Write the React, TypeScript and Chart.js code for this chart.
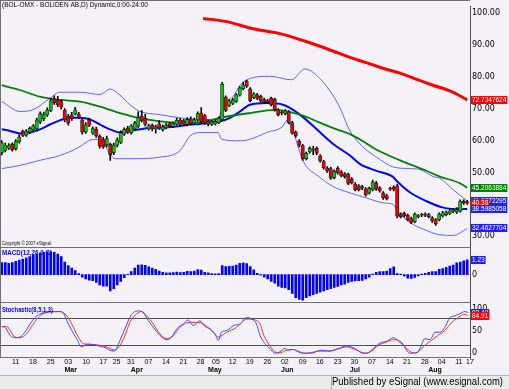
import React, { useEffect, useRef } from 'react';
import { Chart, registerables } from 'chart.js';
Chart.register(...registerables);

// ---------- DATA ----------
const opens = [56.2,56.9,57.6,58.8,57.4,59.6,62.9,61.7,62.6,63.4,63.6,65.8,66.8,68.0,69.4,73.0,72.6,72.2,69.5,67.6,68.0,68.4,68.2,66.5,62.6,66.4,62.3,63.5,61.3,60.3,58.6,58.8,56.2,58.5,59.4,62.0,63.9,62.4,63.6,64.5,67.6,66.9,63.6,64.8,63.6,65.2,63.4,64.0,65.3,64.4,65.0,66.4,66.2,65.0,66.8,65.4,66.4,68.6,67.8,66.1,65.0,65.2,65.6,66.6,73.6,71.0,71.6,72.2,74.2,76.2,78.5,76.2,73.5,74.3,73.8,72.8,72.5,73.2,72.9,69.6,68.9,68.4,69.0,65.6,62.6,59.8,58.4,54.3,56.4,57.4,57.6,55.2,53.4,51.4,51.2,48.4,51.3,50.2,49.6,49.4,48.0,46.4,45.8,45.6,44.9,43.6,44.6,46.6,45.2,43.6,42.8,45.0,45.4,45.8,37.0,37.2,36.6,35.6,34.6,36.2,36.6,37.0,36.8,35.8,35.2,35.2,36.4,36.8,37.2,37.8,37.6,37.9,41.0,40.9];
const highs = [60.0,59.2,59.0,59.3,60.3,61.8,63.3,63.4,64.2,65.0,67.0,69.0,68.9,70.2,73.2,74.0,73.8,72.8,70.0,68.2,68.8,70.4,68.8,67.0,65.6,67.0,64.3,64.2,61.8,61.0,61.4,59.2,59.2,60.8,63.0,64.0,64.4,65.0,66.0,69.0,69.4,68.2,65.1,65.2,64.8,66.2,64.9,65.4,65.6,65.8,67.0,66.9,66.6,67.2,67.4,67.0,69.0,70.3,68.2,66.5,66.3,66.4,67.4,78.2,74.0,72.8,73.2,74.7,76.9,78.2,78.9,76.6,75.0,74.8,74.2,73.3,72.9,73.6,73.3,70.0,69.2,69.7,69.4,66.0,63.0,60.3,58.8,56.4,58.0,58.2,58.0,55.6,53.8,51.8,51.6,50.8,51.8,50.6,50.0,49.8,48.4,46.8,46.2,46.0,45.3,45.4,47.6,47.2,45.6,44.0,43.2,45.4,45.8,46.4,37.4,37.6,37.0,36.0,37.4,36.8,37.2,37.4,37.2,36.2,35.6,37.4,37.8,38.0,38.6,38.8,39.0,41.4,41.4,41.3];
const lows = [55.5,56.4,57.2,56.7,57.0,59.2,61.2,61.3,62.2,63.0,63.0,65.3,66.2,67.5,69.0,71.3,70.6,69.8,65.8,64.8,66.3,68.0,66.8,62.0,62.2,64.3,61.9,61.0,57.6,57.5,58.0,53.8,55.6,58.0,59.0,61.6,62.2,62.0,63.3,64.0,65.8,64.6,63.2,63.0,62.3,63.5,62.9,63.6,64.2,64.0,64.7,64.6,64.6,64.6,64.9,65.0,66.0,65.6,65.0,64.6,64.7,64.9,65.3,66.3,69.0,70.6,71.2,71.9,73.9,75.8,76.6,72.1,73.1,72.8,72.0,71.6,71.6,70.8,69.2,67.7,68.0,68.0,65.2,62.0,61.0,58.0,53.8,53.9,56.0,55.6,55.6,53.2,51.0,50.0,47.8,48.0,49.5,48.6,48.2,46.2,46.4,44.2,44.2,44.6,42.6,43.2,44.2,44.4,43.8,41.6,41.4,44.4,44.2,35.8,35.8,36.0,34.8,34.0,34.2,35.8,36.2,36.2,35.8,34.4,33.4,34.8,36.0,36.4,36.8,37.4,37.2,37.6,40.0,40.0];
const closes = [59.3,58.6,58.4,57.1,59.8,61.0,61.6,62.9,63.8,64.6,66.5,68.4,68.1,69.5,72.4,71.8,71.2,70.4,66.4,65.4,66.9,69.6,67.2,62.6,64.9,64.8,63.7,61.5,58.2,58.0,60.6,55.6,58.6,60.2,62.4,63.5,62.6,64.6,65.5,67.3,66.2,65.0,64.6,63.6,64.3,63.9,64.3,64.8,64.6,65.3,66.3,65.0,65.0,66.6,65.3,66.5,68.4,65.9,65.4,65.0,65.8,65.9,67.0,77.6,69.4,72.4,72.7,74.3,76.5,77.4,77.0,72.5,74.6,73.2,72.3,72.0,72.0,71.2,69.6,68.1,68.6,69.3,65.6,62.3,61.5,58.5,54.2,56.0,57.6,57.0,56.0,53.6,51.5,50.4,48.2,50.4,49.9,49.0,48.7,46.6,46.8,44.6,44.6,45.2,43.0,45.0,47.0,44.8,44.2,42.0,41.8,44.8,44.7,36.3,36.2,36.4,35.2,34.4,37.0,36.4,36.8,36.6,36.2,34.8,33.9,37.0,37.4,37.6,38.0,38.3,38.4,40.9,40.4,40.38];

const macdHist = [1.0,1.0,0.95,1.0,1.1,1.2,1.3,1.4,1.5,1.6,1.7,1.8,1.85,1.9,1.9,1.85,1.7,1.5,1.05,0.75,0.55,0.35,0.1,-0.2,-0.35,-0.45,-0.5,-0.65,-0.85,-0.95,-0.95,-1.35,-1.15,-0.85,-0.55,-0.25,0.02,0.25,0.55,0.8,0.82,0.78,0.65,0.55,0.45,0.3,0.2,0.15,0.15,0.18,0.22,0.18,0.2,0.28,0.25,0.3,0.42,0.38,0.2,0.15,0.1,0.08,0.1,0.75,0.68,0.7,0.72,0.8,0.95,0.98,0.92,0.67,0.4,0.12,-0.05,-0.2,-0.35,-0.55,-0.7,-0.95,-1.05,-1.1,-1.25,-1.55,-1.9,-2.05,-2.12,-1.9,-1.75,-1.65,-1.55,-1.45,-1.35,-1.25,-1.15,-1.05,-0.98,-0.85,-0.78,-0.65,-0.55,-0.52,-0.5,-0.48,-0.35,-0.2,0.05,0.2,0.25,0.25,0.3,0.5,0.65,0.1,0.05,-0.1,-0.28,-0.3,-0.22,-0.1,0.05,0.12,0.2,0.25,0.25,0.45,0.5,0.6,0.72,0.8,0.98,1.05,1.15,1.23];

// indicator lines: [bar index, value]
const ma200 = [[57.5,98.2],[64.3,97.2],[70.9,95.2],[80.4,93.2],[85.2,91.6],[90.1,89.8],[94.6,88.0],[99.5,86.0],[104.4,84.3],[108.9,82.6],[113.8,81.1],[118.6,79.1],[123.2,77.3],[128.1,75.5],[133,72.7347624]];
const ma50 = [[0,77.3],[5.2,75.8],[10.9,73.7],[16.6,72.7],[22.4,72.2],[28.1,70.6],[33.8,68.6],[39.5,67.0],[45.2,66.0],[50.9,65.6],[56.6,65.6],[62.4,67.1],[70.9,68.6],[78.1,69.6],[85.2,68.1],[90.9,65.6],[95.7,63.5],[99.5,62.0],[103.8,59.4],[106.6,57.4],[113.8,53.8],[121,50.7],[125.2,48.7],[131,46.6],[133,45.2063884]];
const bbUpper = [[0,72.2],[5.2,69.1],[8.9,69.6],[13.8,73.2],[16.6,75.1],[22.4,75.1],[28.1,74.4],[30.9,76.1],[33.8,74.2],[36.6,71.2],[39.5,69.1],[45.2,68.1],[50.9,67.1],[56.6,66.6],[61.8,66.6],[63.2,71.2],[66.1,73.7],[68.1,77.3],[70.9,79.4],[76.6,80.1],[82.8,79.0],[86.6,82.4],[91.4,78.8],[96.2,71.2],[99.5,63.0],[103.3,57.9],[107.1,54.8],[111.9,51.7],[116.6,51.2],[119.5,50.9],[123.3,48.7],[125.2,48.2],[129,44.6],[133,41.0372295]];
const bbMid = [[0,63.5],[2.4,63.0],[5.2,62.2],[8.1,62.5],[10.9,63.5],[13.8,65.0],[16.6,66.3],[19.5,67.1],[22.4,67.1],[25.2,66.6],[28.1,65.0],[30.9,63.5],[33.8,62.5],[36.6,63.0],[39.5,63.5],[42.4,64.0],[45.2,64.0],[48.1,64.2],[50.9,64.5],[53.8,65.0],[56.6,65.2],[59.5,65.6],[62.4,66.0],[65.2,67.1],[68.1,69.1],[70.9,71.2],[75.7,71.7],[80.4,71.2],[85.2,68.1],[90,63.5],[94.7,58.9],[99.5,55.3],[102.4,52.6],[107.1,50.5],[111.8,48.6],[112.8,47.4],[116.6,43.8],[121.4,41.0],[126.2,39.0],[131,38.5],[133,38.5985058]];
const bbLower = [[0,51.2],[5.2,52.2],[10.9,53.8],[16.6,55.3],[22.4,58.1],[25.2,60.1],[28.1,60.4],[30.9,55.8],[32.4,54.3],[37.5,54.3],[45.2,54.8],[50.9,56.8],[53.8,61.4],[56.6,62.5],[61.8,62.5],[62.8,60.4],[68.1,59.9],[70.9,60.4],[75.7,62.5],[80.4,64.5],[81.5,66.3],[83.2,63.0],[86.2,53.4],[90.4,48.9],[94.7,45.6],[99.5,43.6],[104.3,42.0],[109,40.5],[111.9,40.0],[112.8,38.4],[116.6,34.4],[120.4,32.3],[125.2,30.5],[129,30.3],[133,32.4627704]];

const stochK = [[0,60.7],[0.9,59.1],[2.4,40.7],[3.8,35.6],[5.2,36.9],[6.6,48],[8.1,66.7],[9.5,81.3],[10.9,88.9],[12.4,92.4],[13.8,94.7],[16.6,94.7],[17.5,92.4],[18.6,74],[20,51.8],[21.4,33.3],[22.8,14.7],[24.3,20.7],[26.2,20],[28.1,16.2],[29.5,13.3],[30.9,7.3],[31.9,5.1],[32.8,11.1],[33.8,29.6],[35.2,55.6],[36.6,81.3],[37.6,92.4],[39,96.2],[40.4,92.4],[41.9,74],[43.3,59.1],[45.2,40.7],[47.1,31.1],[48.6,36.9],[50,55.6],[51.9,66.7],[53.3,75.6],[54.7,62.9],[56.6,74],[58.1,60.7],[59.5,55.6],[60.9,44.4],[61.9,29.6],[62.8,48],[64.3,51.8],[66.2,62.9],[68.1,66.7],[70,81.3],[71.4,77.8],[72.8,66.7],[73.8,40.7],[75.2,22.2],[76.6,11.1],[78.1,0.5],[79.5,3.6],[80.9,11.1],[81.9,7.3],[83.3,8.9],[84.7,3.6],[86.2,0],[87.6,0.8],[89.5,3.6],[91.4,7.3],[93.8,5.1],[96.2,11.1],[98.6,16.9],[100.9,11.1],[103.3,0.5],[104.3,0.5],[106.2,11.1],[108.1,23.6],[110,27.3],[111.9,35.6],[113.3,28],[114.7,18.4],[116.6,0.5],[118.6,1.3],[119.5,11.1],[120.9,33.3],[122.4,31.1],[123.8,48],[125.2,48],[126.6,59.1],[128.1,81.3],[129.5,85.1],[130.9,90.2],[132.4,94.7],[133.3,92.4]];
const stochD = [[0,60.7],[1.4,60.7],[3.8,36.9],[5.2,35.6],[7.1,44.4],[9,66.7],[10.9,85.1],[12.8,92.4],[16.6,94.7],[18.6,85.1],[20,66.7],[21.9,36.9],[23.3,22.2],[25.2,20.7],[28.1,18.4],[30,14.7],[32.4,7.3],[33.8,18.4],[35.2,40.7],[36.6,70.2],[38.6,90.2],[40,94.7],[41.4,85.1],[43.3,66.7],[45.2,44.4],[47.1,33.3],[49,40.7],[51.4,62.9],[53.8,70.2],[55.7,70.2],[57.6,66.7],[60.4,48],[61.9,36.9],[64.3,48],[67.1,59.1],[70,77.8],[72.4,75.6],[73.8,66.7],[74.7,44.4],[76.2,22.2],[78.1,3.6],[79.5,1.3],[81.4,7.3],[83.3,8.9],[85.2,3.6],[86.6,0.5],[88.6,0.5],[90.4,5.1],[92.8,5.1],[95.7,8.9],[98.6,14.7],[101.4,7.3],[103.8,0.5],[105.7,5.1],[107.6,18.4],[110,25.8],[111.9,31.1],[113.8,28],[115.7,11.1],[117.6,1.3],[119,3.6],[120.9,18.4],[122.8,29.6],[124.7,40.7],[126.6,51.8],[128.6,70.2],[130.4,81.3],[132.4,88.9],[133.3,84.91]];

// axes
const dayTickPos = [4,8.9,14,19,24.1,29,32.8,36.9,41.9,46.9,51.9,56.8,61.2,66,70.9,75.9,80.9,86,90.9,96,100.8,105.8,110.9,115.8,120.9,125.7,130.6,133.8];
const dayTickLabels = ['11','18','25','03','10','17','25','31','07','14','21','28','05','12','19','26','02','09','16','23','30','07','14','21','28','04','11','17'];
const monthPos = [19.7,38.6,60.9,81.6,100.9,123.8];
const monthLabels = ['Mar','Apr','May','Jun','Jul','Aug'];
const priceTicks = [30,40,50,60,70,80,90,100];
const macdTicks = [0];
const stochTicks = [0,50,100];
const stochLevels = [20,80];

const TITLE = '(BOL-OMX - BOLIDEN AB,D) Dynamic,0:00-24:00';
const COPYRIGHT = 'Copyright \u00a9 2007 eSignal.';
const MACD_LABEL = 'MACD(12,26,0,C)';
const STOCH_LABEL = 'Stochastic(8,5,1,3)';
const FOOTER = 'Published by eSignal (www.esignal.com)';

// ---------- STYLE ----------
const FONT = "'Liberation Sans', Arial, sans-serif";
const BG = '#F4F2F8';
const FOOTER_BG = '#EBEBEB';
const UP = '#00C800';
const DOWN = '#E80000';
const last = (a: number[][]) => a[a.length - 1][1];

function drawFlag(ctx: CanvasRenderingContext2D, x: number, y: number, text: string, bg: string) {
  ctx.font = `6.5px ${FONT}`;
  const w = ctx.measureText(text).width + 2;
  const h = 8;
  ctx.fillStyle = bg;
  ctx.fillRect(x, Math.round(y - h / 2), w, h);
  ctx.fillStyle = '#FFFFFF';
  ctx.textAlign = 'left';
  ctx.textBaseline = 'middle';
  ctx.fillText(text, x + 1, Math.round(y - h / 2) + h / 2 + 0.5);
}

const decor = {
  id: 'decor',
  beforeDraw(chart: any) {
    const { ctx, width, height } = chart;
    const xs = chart.scales.x;
    ctx.save();
    ctx.fillStyle = BG;
    ctx.fillRect(0, 0, width, height);
    const ft = Math.round(xs.bottom);
    ctx.fillStyle = FOOTER_BG;
    ctx.fillRect(0, ft, width, height - ft);
    ctx.fillStyle = '#B4B4B4';
    ctx.fillRect(0, ft, width, 1);
    ctx.fillRect(331, ft, 1, height - ft);
    ctx.restore();
  },
  beforeDatasetsDraw(chart: any) {
    const { ctx, chartArea } = chart;
    const s = chart.scales.stoch;
    ctx.save();
    ctx.strokeStyle = '#505050';
    ctx.lineWidth = 1;
    stochLevels.forEach((v) => {
      const y = Math.round(s.getPixelForValue(v)) + 0.5;
      ctx.beginPath();
      ctx.moveTo(chartArea.left, y);
      ctx.lineTo(chartArea.right, y);
      ctx.stroke();
    });
    ctx.restore();
  },
  afterDraw(chart: any) {
    const { ctx, chartArea } = chart;
    const { y, macd, stoch, x } = chart.scales;
    ctx.save();
    // panel frame
    ctx.strokeStyle = '#707070';
    ctx.lineWidth = 1;
    ctx.beginPath();
    [y.bottom, macd.bottom, stoch.bottom].forEach((b: number) => {
      const yy = Math.round(b) - 0.5;
      ctx.moveTo(chartArea.left, yy);
      ctx.lineTo(chartArea.right, yy);
    });
    ctx.moveTo(chartArea.left, 0.5);
    ctx.lineTo(chartArea.right, 0.5);
    ctx.moveTo(0.5, 0);
    ctx.lineTo(0.5, chartArea.bottom);
    ctx.stroke();

    // month labels
    ctx.fillStyle = '#000';
    ctx.font = `bold 7px ${FONT}`;
    ctx.textAlign = 'center';
    ctx.textBaseline = 'middle';
    monthPos.forEach((p, k) => ctx.fillText(monthLabels[k], x.getPixelForValue(p), 370.5));

    // texts
    ctx.textAlign = 'left';
    ctx.font = `7px ${FONT}`;
    ctx.fillStyle = '#000';
    ctx.fillText(TITLE, 2, 5.5, 146);
    ctx.font = `5px ${FONT}`;
    ctx.fillText(COPYRIGHT, 2, y.bottom - 4.5, 50);
    ctx.font = `bold 7px ${FONT}`;
    ctx.fillStyle = '#0000FF';
    ctx.fillText(MACD_LABEL, 2, y.bottom + 4.5, 50);
    ctx.fillText(STOCH_LABEL, 2, macd.bottom + 6.5, 51);

    // footer
    ctx.fillStyle = '#000';
    ctx.font = `10px ${FONT}`;
    ctx.textAlign = 'right';
    ctx.fillText(FOOTER, 503, x.bottom + 7, 171);

    // value flags
    const fx = Math.round(chartArea.right) + 1;
    drawFlag(ctx, fx, y.getPixelForValue(last(ma200)), last(ma200).toFixed(7), '#FF0000');
    drawFlag(ctx, fx, y.getPixelForValue(last(ma50)), last(ma50).toFixed(7), '#008000');
    drawFlag(ctx, fx, y.getPixelForValue(last(bbUpper)), last(bbUpper).toFixed(7), '#2020FF');
    const c = closes[closes.length - 1];
    drawFlag(ctx, fx, y.getPixelForValue(c), c.toFixed(2), '#FF0000');
    drawFlag(ctx, fx, y.getPixelForValue(last(bbMid)), last(bbMid).toFixed(7), '#2020FF');
    drawFlag(ctx, fx, y.getPixelForValue(last(bbLower)), last(bbLower).toFixed(7), '#2020FF');
    const m = macdHist[macdHist.length - 1];
    drawFlag(ctx, fx, macd.getPixelForValue(m), m.toFixed(2), '#2020FF');
    drawFlag(ctx, fx, stoch.getPixelForValue(last(stochK)), last(stochK).toFixed(2), '#2020FF');
    drawFlag(ctx, fx, stoch.getPixelForValue(last(stochD)), last(stochD).toFixed(2), '#FF0000');
    ctx.restore();
  },
};

const pts = (a: number[][]) => a.map(([i, v]) => ({ x: i, y: v }));

export default function App() {
  const ref = useRef<HTMLCanvasElement>(null);
  useEffect(() => {
    const bodies = closes.map((c, i) => ({ x: i, y: [opens[i], c] }));
    const wicks = closes.map((_, i) => ({ x: i, y: [lows[i], highs[i]] }));
    const bodyColors = closes.map((c, i) => (c >= opens[i] ? UP : DOWN));
    const macdData = macdHist.map((v, i) => ({ x: i, y: v }));
    const lineDs = (label: string, data: number[][], color: string, width: number, axis: string, order: number) => ({
      type: 'line', label, data: pts(data), borderColor: color, borderWidth: width, pointRadius: 0,
      cubicInterpolationMode: 'monotone', fill: false, yAxisID: axis, order,
    });
    const axisCommon = {
      type: 'linear', position: 'right', stack: 'panels',
      grid: { display: false, drawTicks: false },
      border: { display: true, color: '#505050', width: 1 },
      afterFit: (s: any) => { s.width = 39; },
    };
    const tickFont = { family: "'DejaVu Sans', sans-serif", size: 8 };
    const chart = new Chart(ref.current as HTMLCanvasElement, {
      type: 'line',
      data: {
        datasets: [
          { type: 'bar', label: 'body', data: bodies, backgroundColor: bodyColors, borderColor: '#202020', borderWidth: 0.8, borderSkipped: false, barThickness: 3.4, minBarLength: 1, grouped: false, yAxisID: 'y', order: 1 },
          { type: 'bar', label: 'wick', data: wicks, backgroundColor: '#000', borderWidth: 0, barThickness: 1, grouped: false, yAxisID: 'y', order: 2 },
          lineDs('ma200', ma200, '#FF0000', 3, 'y', 3),
          lineDs('ma50', ma50, '#008000', 1.8, 'y', 3),
          lineDs('bbMid', bbMid, '#0000FF', 2, 'y', 3),
          lineDs('bbUpper', bbUpper, '#6464FF', 1, 'y', 3),
          lineDs('bbLower', bbLower, '#6464FF', 1, 'y', 3),
          { type: 'bar', label: 'macd', data: macdData, backgroundColor: '#0000FF', borderWidth: 0, barThickness: 2, grouped: false, yAxisID: 'macd', order: 4 },
          lineDs('%K', stochK, '#4848FF', 1, 'stoch', 5),
          lineDs('%D', stochD, '#FF3030', 1, 'stoch', 5),
        ] as any,
      },
      options: {
        responsive: false,
        animation: false,
        events: [],
        layout: { padding: { left: 0, right: 0, top: 0, bottom: 14 } },
        plugins: { legend: { display: false }, tooltip: { enabled: false } },
        scales: {
          y: {
            ...axisCommon, stackWeight: 246, min: 26.32, max: 101.84,
            afterBuildTicks: (s: any) => { s.ticks = priceTicks.map((v) => ({ value: v })); },
            ticks: { callback: (v: any) => Number(v).toFixed(2), font: tickFont, color: '#000', padding: 2, autoSkip: false },
          },
          macd: {
            ...axisCommon, stackWeight: 56, min: -2.35, max: 2.2,
            afterBuildTicks: (s: any) => { s.ticks = macdTicks.map((v) => ({ value: v })); },
            ticks: { callback: (v: any) => String(v), font: tickFont, color: '#000', padding: 2, autoSkip: false },
          },
          stoch: {
            ...axisCommon, stackWeight: 56, min: -10.4, max: 114,
            afterBuildTicks: (s: any) => { s.ticks = stochTicks.map((v) => ({ value: v })); },
            ticks: { callback: (v: any) => String(v), font: tickFont, color: '#000', padding: 2, autoSkip: false },
          },
          x: {
            type: 'linear', position: 'bottom', min: -0.5, max: 133.8, offset: false,
            grid: { display: false, drawTicks: false },
            border: { display: false },
            afterBuildTicks: (s: any) => { s.ticks = dayTickPos.map((v) => ({ value: v })); },
            afterFit: (s: any) => { s.height = 17; },
            ticks: {
              autoSkip: false, maxRotation: 0, padding: 0, color: '#000',
              font: { family: FONT, size: 7 },
              callback: (_v: any, idx: number) => dayTickLabels[idx],
            },
          },
        } as any,
      },
      plugins: [decor],
    } as any);
    return () => chart.destroy();
  }, []);
  return (
    <div style={{ position: 'absolute', left: 0, top: 0, width: 509, height: 389 }}>
      <canvas ref={ref} width={509} height={389} style={{ display: 'block', width: 509, height: 389 }} />
    </div>
  );
}
